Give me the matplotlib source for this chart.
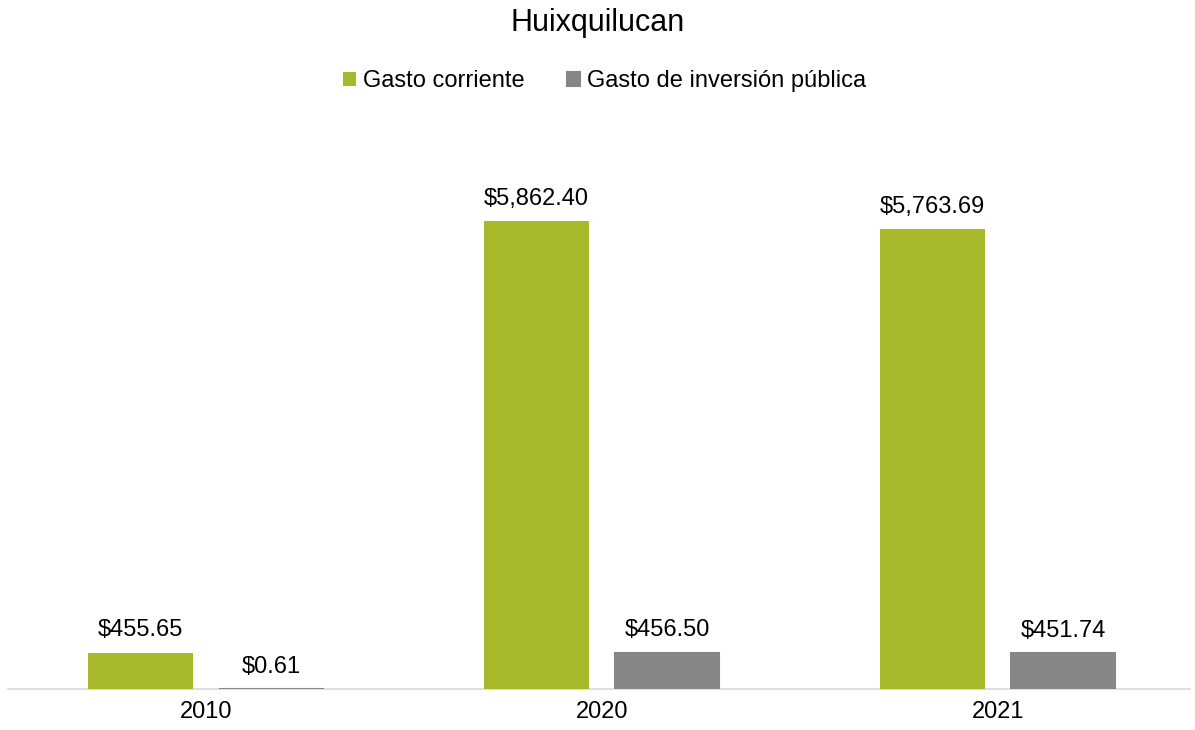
import matplotlib
matplotlib.use("Agg")
import matplotlib.pyplot as plt
import numpy as np

plt.rcParams['font.family'] = ['Liberation Sans', 'DejaVu Sans']

years = ["2010", "2020", "2021"]
gasto_corriente = [455.65, 5862.40, 5763.69]
gasto_inversion = [0.61, 456.50, 451.74]
series_names = ["Gasto corriente", "Gasto de inversión pública"]
colors = ["#A7B82A", "#868686"]

fig = plt.figure(figsize=(11.95, 7.3), dpi=100)
ax = fig.add_axes([0.0067, 0.0562, 0.989, 0.7657])

x = np.arange(len(years))
w = 0.264
off = 0.165
b1 = ax.bar(x - off, gasto_corriente, width=w, color=colors[0], label=series_names[0], zorder=3)
b2 = ax.bar(x + off, gasto_inversion, width=w, color=colors[1], label=series_names[1],
            edgecolor=colors[1], linewidth=1.5, zorder=3)

for bars, vals in ((b1, gasto_corriente), (b2, gasto_inversion)):
    for r, v in zip(bars, vals):
        ax.annotate(f"${v:,.2f}", (r.get_x() + r.get_width() / 2, v),
                    xytext=(0, 8), textcoords="offset points",
                    ha="center", va="bottom", fontsize=17, color="#000000")

ax.set_xlim(-0.5, 2.485)
ax.set_ylim(0, 7000)
ax.set_xticks(x)
ax.set_xticklabels(years, fontsize=17)
ax.tick_params(axis="x", length=0, pad=9)
ax.set_yticks([])
for s in ("top", "right", "left"):
    ax.spines[s].set_visible(False)
ax.spines["bottom"].set_color("#D9D9D9")
ax.spines["bottom"].set_linewidth(1.2)
ax.spines["bottom"].set_zorder(1)

fig.text(0.5, 0.968, "Huixquilucan", ha="center", va="center", fontsize=22)
fig.legend(loc="center", bbox_to_anchor=(0.506, 0.889), ncol=2, frameon=False,
           fontsize=17, handlelength=0.55, handleheight=0.55, handletextpad=0.3,
           columnspacing=1.8)

fig.savefig("out.png", dpi=100)
